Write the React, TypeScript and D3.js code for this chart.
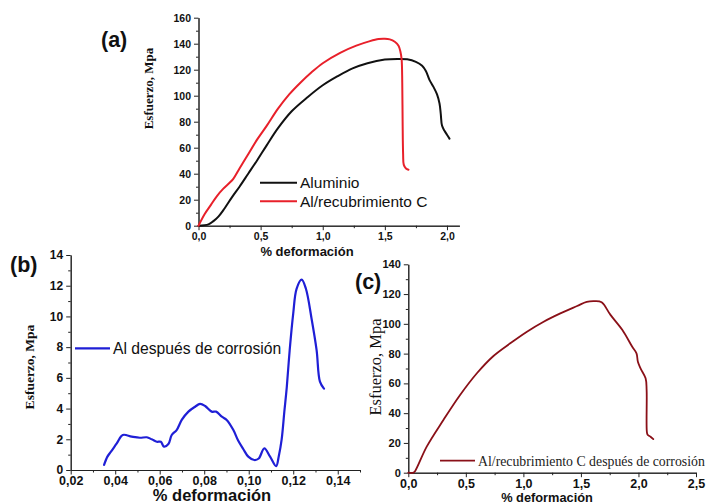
import * as d3 from 'd3';
import React, { useRef, useEffect } from 'react';

// (a) Aluminio
const alStrain = [0, 0.08, 0.12, 0.16, 0.2, 0.27, 0.33, 0.4, 0.47, 0.55, 0.64, 0.75, 0.88, 1.0, 1.12, 1.24, 1.36, 1.5, 1.6, 1.68, 1.75, 1.8, 1.83, 1.86, 1.89, 1.92, 1.94, 1.95, 1.96, 1.98, 2.0, 2.02];
const alStress = [0, 1, 3.5, 7, 12, 22, 30, 40, 50, 62, 75, 88, 99, 108, 115, 121, 125, 127.8, 128.3, 128, 126, 123, 119, 112, 107, 101, 94, 86, 77, 73, 70, 67];

// (a) Al/recubrimiento C
const rcStrain = [0, 0.05, 0.1, 0.15, 0.2, 0.25, 0.28, 0.33, 0.4, 0.47, 0.55, 0.64, 0.73, 0.82, 0.91, 1.0, 1.14, 1.27, 1.38, 1.45, 1.5, 1.54, 1.58, 1.61, 1.625, 1.635, 1.64, 1.643, 1.647, 1.652, 1.67, 1.69];
const rcStress = [0, 9, 16, 23, 28.5, 33, 36, 44, 55, 66, 77, 90, 101, 110, 118, 125, 133, 138.5, 142, 143.6, 143.8, 143.3, 141.5, 138.5, 134, 128, 110, 80, 55, 47, 44, 43];

// (b) Al después de corrosión
const corStrain = [0.035, 0.0365, 0.0381, 0.0407, 0.0434, 0.0474, 0.0511, 0.0542, 0.0564, 0.0587, 0.0605, 0.0619, 0.0639, 0.0654, 0.0676, 0.0699, 0.0729, 0.0759, 0.0781, 0.0804, 0.0834, 0.0853, 0.0879, 0.0901, 0.0931, 0.0953, 0.0976, 0.0998, 0.1025, 0.1045, 0.107, 0.1096, 0.1123, 0.1135, 0.1148, 0.116, 0.1171, 0.1184, 0.12, 0.1215, 0.1238, 0.1257, 0.1283, 0.1305, 0.132, 0.1338];
const corStress = [0.33, 0.87, 1.19, 1.73, 2.28, 2.17, 2.1, 2.13, 2.0, 1.84, 1.84, 1.52, 1.69, 2.28, 2.6, 3.26, 3.8, 4.12, 4.3, 4.17, 3.8, 3.8, 3.47, 3.26, 2.6, 1.9, 1.35, 0.87, 0.65, 0.75, 1.41, 0.87, 0.25, 0.9, 2.0, 3.8, 5.4, 7.8, 10.2, 11.8, 12.4, 11.8, 9.8, 7.8, 5.75, 5.3];

// (c) Al/recubrimiento C después de corrosión
const rccStrain = [0, 0.045, 0.06, 0.16, 0.305, 0.45, 0.596, 0.74, 0.886, 1.031, 1.176, 1.321, 1.467, 1.55, 1.62, 1.68, 1.757, 1.859, 1.946, 1.983, 1.995, 2.018, 2.062, 2.071, 2.073, 2.08, 2.105, 2.129];
const rccStress = [0, 0, 1.2, 17.5, 35.4, 52.2, 66.8, 78.4, 86.9, 94.7, 101.4, 107, 112, 114.8, 115.3, 114.5, 106, 96, 84.6, 80.2, 74.5, 70.1, 63.4, 55.5, 27.5, 25.5, 24.2, 22.6];

const ticksA_x = [0, 0.5, 1.0, 1.5, 2.0];
const ticksA_y = [0, 20, 40, 60, 80, 100, 120, 140, 160];
const ticksB_x = [0.02, 0.04, 0.06, 0.08, 0.1, 0.12, 0.14];
const ticksB_y = [0, 2, 4, 6, 8, 10, 12, 14];
const ticksC_x = [0, 0.5, 1.0, 1.5, 2.0, 2.5];
const ticksC_y = [0, 20, 40, 60, 80, 100, 120, 140];

const SANS = "'Liberation Sans', Arial, sans-serif";
const SERIF = "'Liberation Serif', 'Times New Roman', serif";

function comma(fmt) {
    const f = d3.format(fmt);
    return (d) => f(d).replace('.', ',');
}

function drawPanel(svg, p) {
    const x = d3.scaleLinear().domain(p.xDomain).range(p.xRange);
    const y = d3.scaleLinear().domain(p.yDomain).range(p.yRange);
    const g = svg.append("g");
    const axisColor = "#222";

    const styleAxis = (sel, size) => {
        sel.attr("font-family", SANS).attr("font-size", size).attr("font-weight", "bold");
        sel.selectAll("path, line").attr("stroke", axisColor).attr("stroke-width", 1);
        sel.selectAll("text").attr("fill", "#111");
    };

    // minor ticks
    g.append("g").attr("transform", `translate(0,${p.yRange[0]})`)
        .call(d3.axisBottom(x).tickValues(p.xMinor).tickSize(2.5).tickFormat(() => "").tickSizeOuter(0))
        .call(s => styleAxis(s, p.tickFont));
    g.append("g").attr("transform", `translate(${p.xRange[0]},0)`)
        .call(d3.axisLeft(y).tickValues(p.yMinor).tickSize(2.5).tickFormat(() => "").tickSizeOuter(0))
        .call(s => styleAxis(s, p.tickFont));

    // major
    g.append("g").attr("transform", `translate(0,${p.yRange[0]})`)
        .call(d3.axisBottom(x).tickValues(p.xTicks).tickSize(4.5).tickPadding(2).tickSizeOuter(0).tickFormat(comma(p.xFmt)))
        .call(s => styleAxis(s, p.xTickFont || p.tickFont));
    g.append("g").attr("transform", `translate(${p.xRange[0]},0)`)
        .call(d3.axisLeft(y).tickValues(p.yTicks).tickSize(4.5).tickSizeOuter(0).tickFormat(d3.format("d")))
        .call(s => styleAxis(s, p.tickFont));

    const line = d3.line().x(d => x(d[0])).y(d => y(d[1])).curve(d3.curveCatmullRom.alpha(0.5));
    p.series.forEach(s => {
        const pts = s.xs.map((v, i) => [v, s.ys[i]]);
        g.append("path").attr("d", line(pts)).attr("fill", "none")
            .attr("stroke", s.color).attr("stroke-width", s.width)
            .attr("stroke-linejoin", "round").attr("stroke-linecap", "round");
        g.append("line").attr("x1", s.lx).attr("x2", s.lx + s.lw).attr("y1", s.ly).attr("y2", s.ly)
            .attr("stroke", s.color).attr("stroke-width", s.width);
        g.append("text").attr("x", s.lx + s.lw + 3).attr("y", s.ly + s.lfont * 0.35)
            .attr("font-family", s.lfamily).attr("font-size", s.lfont).attr("fill", s.lcolor || "#111")
            .text(s.label);
    });

    // panel letter
    g.append("text").attr("x", p.letter[0]).attr("y", p.letter[1])
        .attr("font-family", SANS).attr("font-weight", "bold").attr("font-size", 21.5).attr("fill", "#111")
        .text(p.letterText);

    // y title
    g.append("text").attr("transform", `translate(${p.yTitle[0]},${p.yTitle[1]}) rotate(-90)`)
        .attr("text-anchor", "middle").attr("font-family", SERIF)
        .attr("font-weight", p.yTitleWeight).attr("font-size", p.yTitleFont).attr("fill", "#111")
        .text("Esfuerzo, Mpa");

    // x title
    g.append("text").attr("x", p.xTitle[0]).attr("y", p.xTitle[1]).attr("text-anchor", "middle")
        .attr("font-family", SANS).attr("font-weight", "bold").attr("font-size", p.xTitleFont).attr("fill", "#111")
        .text("% deformación");
}

function Chart({ width, height }) {
    const ref = useRef();

    useEffect(() => {
        const svg = d3.select(ref.current);
        svg.selectAll("*").remove();

        drawPanel(svg, {
            xDomain: [0, 2.1], xRange: [198.5, 459.4],
            yDomain: [0, 160], yRange: [225.7, 17.7],
            xTicks: ticksA_x, yTicks: ticksA_y,
            xMinor: d3.range(0.25, 2.1, 0.5), yMinor: d3.range(10, 160, 20),
            xFmt: ".1f", tickFont: 10.5,
            letter: [101, 47], letterText: "(a)",
            yTitle: [152.5, 88.5], yTitleFont: 13, yTitleWeight: "bold",
            xTitle: [307, 256], xTitleFont: 13,
            series: [
                { xs: alStrain, ys: alStress, color: "#111", width: 2, label: "Aluminio", lx: 260, lw: 37, ly: 182.7, lfont: 15.5, lfamily: SANS },
                { xs: rcStrain, ys: rcStress, color: "#e8202a", width: 2, label: "Al/recubrimiento C", lx: 260, lw: 37, ly: 201.3, lfont: 15.5, lfamily: SANS },
            ],
        });

        drawPanel(svg, {
            xDomain: [0.02, 0.15], xRange: [70.7, 360],
            yDomain: [0, 14], yRange: [470, 255],
            xTicks: ticksB_x, yTicks: ticksB_y,
            xMinor: d3.range(0.03, 0.151, 0.02), yMinor: d3.range(1, 14, 2),
            xFmt: ".2f", tickFont: 12, xTickFont: 12.5,
            letter: [10, 272], letterText: "(b)",
            yTitle: [34, 367], yTitleFont: 13.5, yTitleWeight: "bold",
            xTitle: [212, 501], xTitleFont: 16.5,
            series: [
                { xs: corStrain, ys: corStress, color: "#1f1fd6", width: 2.2, label: "Al después de corrosión", lx: 75, lw: 35, ly: 348.3, lfont: 15.7, lfamily: SANS },
            ],
        });

        drawPanel(svg, {
            xDomain: [0, 2.5], xRange: [408.3, 696],
            yDomain: [0, 140], yRange: [472.7, 264.3],
            xTicks: ticksC_x, yTicks: ticksC_y,
            xMinor: d3.range(0.25, 2.5, 0.5), yMinor: d3.range(10, 140, 20),
            xFmt: ".1f", tickFont: 11, xTickFont: 12.5,
            letter: [355, 289], letterText: "(c)",
            yTitle: [380.5, 367], yTitleFont: 16.5, yTitleWeight: "normal",
            xTitle: [547, 501.5], xTitleFont: 12.8,
            series: [
                { xs: rccStrain, ys: rccStress, color: "#8a1018", width: 1.8, label: "Al/recubrimiento C después de corrosión", lx: 440, lw: 35, ly: 460.7, lfont: 13.8, lfamily: SERIF, lcolor: "#222" },
            ],
        });
    }, []);

    return (
        <svg ref={ref} width={width} height={height} style={{ display: "block", background: "#fff" }}></svg>
    );
}

export default function App() {
    return (
        <div style={{ position: "absolute", left: 0, top: 0 }}>
            <Chart width={714} height={503} />
        </div>
    );
}
